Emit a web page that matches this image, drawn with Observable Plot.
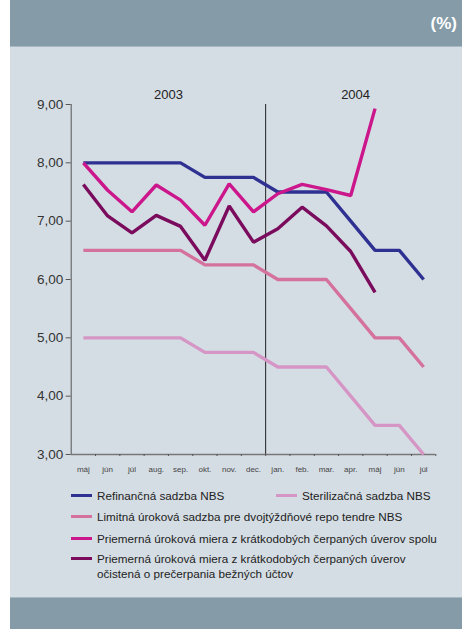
<!DOCTYPE html>
<html>
<head>
<meta charset="utf-8">
<script src="https://cdn.jsdelivr.net/npm/d3@7"></script>
<script src="https://cdn.jsdelivr.net/npm/@observablehq/plot@0.6"></script>
<style>
  html, body { margin: 0; padding: 0; background: #fff; }
  #wrap { position: relative; width: 462px; height: 629px; overflow: hidden; font-family: "Liberation Sans", Arial, sans-serif; }
  #head { position: absolute; left: 10px; top: 0; width: 452px; height: 46px; background: #859ba7; border-bottom: 1px solid #a9b9c3; }
  #pct { position: absolute; right: 5px; top: 14px; color: #fff; font-weight: bold; font-size: 17px; }
  #bg { position: absolute; left: 10px; top: 47px; width: 452px; height: 550px; background: #d5dde4; }
  #foot { position: absolute; left: 10px; top: 597px; width: 452px; height: 32px; background: #859ba7; border-top: 1px solid #a9b9c3; }
  #chart { position: absolute; left: 0; top: 0; }
  .lg { position: absolute; font-size: 11.7px; color: #222; line-height: 15px; white-space: nowrap; }
  .sw { position: absolute; width: 21px; height: 3px; }
</style>
</head>
<body>
<div id="wrap">
  <div id="head"><div id="pct">(%)</div></div>
  <div id="bg"></div>
  <div id="foot"></div>
  <div id="chart"></div>
  <div id="legend"></div>
</div>
<script>
const months = ["máj","jún","júl","aug.","sep.","okt.","nov.","dec.","jan.","feb.","mar.","apr.","máj","jún","júl"];
const years = ["2003", "2004"];
const yTicks = [3, 4, 5, 6, 7, 8, 9];

const seriesNames = [
  "Refinančná sadzba NBS",
  "Sterilizačná sadzba NBS",
  "Limitná úroková sadzba pre dvojtýždňové repo tendre NBS",
  "Priemerná úroková miera z krátkodobých čerpaných úverov spolu",
  "Priemerná úroková miera z krátkodobých čerpaných úverov očistená o prečerpania bežných účtov"
];
const refinancna   = [8, 8, 8, 8, 8, 7.75, 7.75, 7.75, 7.5, 7.5, 7.5, 7.0, 6.5, 6.5, 6.0];
const sterilizacna = [5, 5, 5, 5, 5, 4.75, 4.75, 4.75, 4.5, 4.5, 4.5, 4.0, 3.5, 3.5, 3.0];
const limitna      = [6.5, 6.5, 6.5, 6.5, 6.5, 6.25, 6.25, 6.25, 6.0, 6.0, 6.0, 5.5, 5.0, 5.0, 4.5];
const spolu        = [8.0, 7.53, 7.16, 7.62, 7.36, 6.93, 7.64, 7.16, 7.47, 7.63, 7.54, 7.44, 8.93];
const ocistena     = [7.63, 7.09, 6.8, 7.1, 6.91, 6.33, 7.26, 6.64, 6.87, 7.24, 6.92, 6.48, 5.78];

const colors = ["#2e3192", "#d596c6", "#d4719d", "#cc168c", "#7a0b5d"];
const allSeries = [refinancna, sterilizacna, limitna, spolu, ocistena];

const data = [];
allSeries.forEach((arr, s) => arr.forEach((v, i) => data.push({series: seriesNames[s], i, month: months[i], value: v})));
// draw order: back to front
const drawOrder = [1, 2, 0, 4, 3];

const fmt = d => d3.format(".2f")(d).replace(".", ",");

const chart = Plot.plot({
  width: 462,
  height: 629,
  marginLeft: 70.7,
  marginRight: 26.7,
  marginTop: 104,
  marginBottom: 175,
  style: {background: "transparent", fontFamily: "'Liberation Sans', Arial, sans-serif", color: "#333"},
  x: {type: "linear", domain: [0, months.length], axis: null},
  y: {domain: [3, 9], axis: null},
  color: {domain: seriesNames, range: colors},
  marks: [
    Plot.ruleX([0], {y1: 3, y2: 9, stroke: "#555", strokeWidth: 1}),
    Plot.ruleX([8], {y1: 3, y2: 9, stroke: "#222", strokeWidth: 1}),
    Plot.ruleY([3], {x1: 0, x2: months.length, stroke: "#777", strokeWidth: 1.5}),
    Plot.axisY({ticks: yTicks, tickFormat: fmt, tickSize: 5, tickPadding: 3, fontSize: 13.5, stroke: "#555", fill: "#333", label: null}),
    Plot.axisX({ticks: d3.range(1, months.length + 1), tickFormat: () => "", tickSize: 2, stroke: "#555", label: null}),
    Plot.axisX({ticks: d3.range(months.length).map(i => i + 0.5), tickFormat: v => months[Math.floor(v)], tickSize: 0, tickPadding: 12, fontSize: 8, fill: "#444", label: null}),
    Plot.text(years, {x: (d, k) => k === 0 ? 4.0 : 11.7, y: 9, dy: -10, text: d => d, fontSize: 13, fill: "#222"}),
    ...drawOrder.map(s => Plot.line(data.filter(d => d.series === seriesNames[s]), {
      x: d => d.i + 0.5, y: "value", stroke: "series", strokeWidth: 3.4, strokeLinejoin: "miter", strokeLinecap: "butt"
    }))
  ]
});
document.getElementById("chart").appendChild(chart);

// legend (HTML)
const legendItems = [
  {s: 0, x: 71, y: 488, text: seriesNames[0]},
  {s: 1, x: 276, y: 488, text: seriesNames[1]},
  {s: 2, x: 71, y: 509, text: seriesNames[2]},
  {s: 3, x: 71, y: 531, text: seriesNames[3]},
  {s: 4, x: 71, y: 551, text: "Priemerná úroková miera z krátkodobých čerpaných úverov<br>očistená o prečerpania bežných účtov"}
];
const lg = document.getElementById("legend");
legendItems.forEach(it => {
  const sw = document.createElement("div");
  sw.className = "sw";
  sw.style.left = it.x + "px";
  sw.style.top = (it.y + 6) + "px";
  sw.style.background = colors[it.s];
  lg.appendChild(sw);
  const t = document.createElement("div");
  t.className = "lg";
  t.style.left = (it.x + 26) + "px";
  t.style.top = it.y + "px";
  t.innerHTML = it.text;
  lg.appendChild(t);
});
</script>
</body>
</html>
